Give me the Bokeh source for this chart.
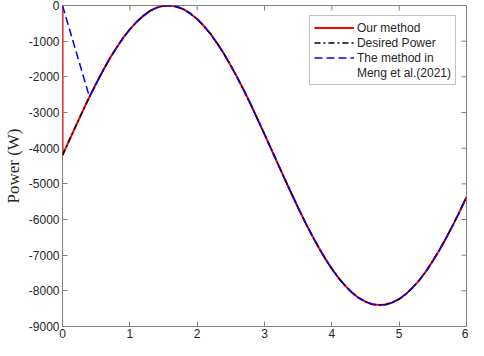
import math
from bokeh.plotting import figure
from bokeh.models import Legend, LegendItem, Range1d, FixedTicker
from bokeh.embed import file_html
from bokeh.resources import INLINE

# time grid (s) and desired power (W)
t = [0.0, 0.1, 0.2, 0.3, 0.4, 0.5, 0.6, 0.7, 0.8, 0.9,
     1.0, 1.1, 1.2, 1.3, 1.4, 1.5, 1.6, 1.7, 1.8, 1.9,
     2.0, 2.1, 2.2, 2.3, 2.4, 2.5, 2.6, 2.7, 2.8, 2.9,
     3.0, 3.1, 3.2, 3.3, 3.4, 3.5, 3.6, 3.7, 3.8, 3.9,
     4.0, 4.1, 4.2, 4.3, 4.4, 4.5, 4.6, 4.7, 4.8, 4.9,
     5.0, 5.1, 5.2, 5.3, 5.4, 5.5, 5.6, 5.7, 5.8, 5.9, 6.0]
desired = [-4200, -3780, -3370, -2960, -2565, -2190, -1830, -1490, -1190, -910,
           -670, -460, -290, -150, -60, -10, 0, -35, -110, -230,
           -380, -575, -800, -1070, -1360, -1690, -2035, -2405, -2790, -3200,
           -3610, -4025, -4445, -4860, -5270, -5670, -6060, -6425, -6770, -7090,
           -7380, -7640, -7860, -8050, -8200, -8305, -8375, -8400, -8385, -8325,
           -8230, -8090, -7910, -7700, -7450, -7160, -6850, -6510, -6150, -5770, -5370]

# "Our method": starts at (0, 0), drops to the desired curve, then tracks it
our_x = [0.0] + t
our_y = [0] + desired

# "The method in Meng et al.(2021)": starts at (0, 0), reaches curve at t=0.4
meng_x = [0.0] + t[4:]
meng_y = [0] + desired[4:]

x_ticks = [0, 1, 2, 3, 4, 5, 6]
y_ticks = [-9000, -8000, -7000, -6000, -5000, -4000, -3000, -2000, -1000, 0]
x_labels = {v: str(v) for v in x_ticks}
y_labels = {v: str(v) for v in y_ticks}

p = figure(width=468, height=340, output_backend="svg", toolbar_location=None,
           x_range=Range1d(x_ticks[0], x_ticks[-1]), y_range=Range1d(y_ticks[0], y_ticks[-1]),
           min_border_left=60, min_border_right=2, min_border_top=5, min_border_bottom=0)
p.xgrid.visible = False
p.ygrid.visible = False
p.background_fill_color = "white"
p.outline_line_color = "#808080"
p.outline_line_width = 1

axcol = "#808080"
labcol = "#262626"

for ax in [p.xaxis[0], p.yaxis[0]]:
    ax.axis_line_color = None          # the box outline draws the axis lines
    ax.major_tick_line_color = axcol
    ax.major_tick_in = 5
    ax.major_tick_out = 0
    ax.minor_tick_line_color = None
    ax.major_label_text_font = "Liberation Sans"
    ax.major_label_text_font_size = "12px"
    ax.major_label_text_color = labcol

p.xaxis[0].ticker = FixedTicker(ticks=x_ticks)
p.xaxis[0].major_label_overrides = x_labels
p.xaxis[0].major_label_standoff = 2
p.yaxis[0].ticker = FixedTicker(ticks=y_ticks)
p.yaxis[0].major_label_overrides = y_labels
p.yaxis[0].major_label_standoff = 3
p.yaxis[0].axis_label = "Power (W)"
p.yaxis[0].axis_label_text_font = "Liberation Serif"
p.yaxis[0].axis_label_text_font_style = "normal"
p.yaxis[0].axis_label_text_font_size = "17px"
p.yaxis[0].axis_label_text_color = labcol
p.yaxis[0].axis_label_standoff = 3

# mirrored inward ticks on the top and right edges of the box
p.ray(x=[x_ticks[-1]] * len(y_ticks), y=y_ticks, length=5, length_units="screen",
      angle=math.pi, line_color=axcol, line_width=1)
p.ray(x=x_ticks, y=[y_ticks[-1]] * len(x_ticks), length=5, length_units="screen",
      angle=-math.pi / 2, line_color=axcol, line_width=1)

r_our = p.line(our_x, our_y, line_color="#FF0000", line_width=2)
r_des = p.line(t, desired, line_color="black", line_width=1.5, line_dash="6 3 2 3")
r_meng = p.line(meng_x, meng_y, line_color="#0000FF", line_width=1.5, line_dash="8 4")
r_blank = p.line([], [], line_alpha=0)

legend = Legend(items=[
    LegendItem(label="Our method", renderers=[r_our]),
    LegendItem(label="Desired Power", renderers=[r_des]),
    LegendItem(label="The method in", renderers=[r_meng]),
    LegendItem(label="Meng et al.(2021)", renderers=[r_blank]),
], location="top_right")
legend.margin = 10
legend.padding = 4
legend.spacing = 0
legend.label_height = 15
legend.glyph_height = 15
legend.glyph_width = 40
legend.label_standoff = 3
legend.label_text_font = "Liberation Sans"
legend.label_text_font_size = "12px"
legend.label_text_color = labcol
legend.border_line_color = "#808080"
legend.border_line_width = 1
legend.background_fill_color = "white"
legend.background_fill_alpha = 1
p.add_layout(legend, "center")

open("out.html", "w").write(file_html(p, INLINE))
